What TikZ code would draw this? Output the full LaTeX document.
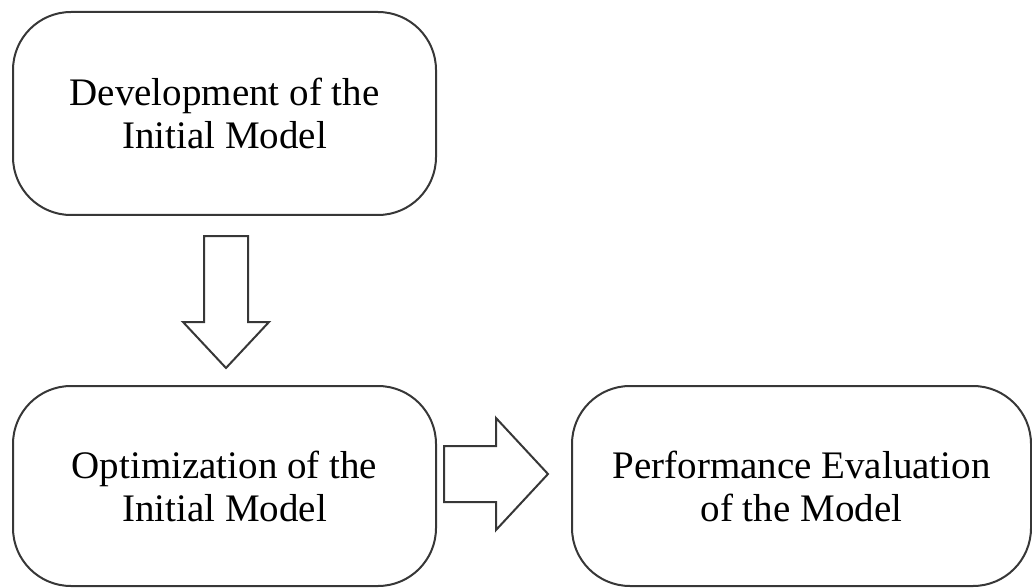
\documentclass[tikz,border=0pt]{standalone}
\usepackage{fontspec}
\setmainfont{Liberation Serif}
\usepackage{tikz}
\usetikzlibrary{calc}
\definecolor{boxline}{RGB}{55,55,55}
\tikzset{
  stage/.style  ={draw=boxline, line width=1pt, rounded corners=29pt,
                  align=center, inner sep=0pt, minimum height=100pt,
                  font=\fontsize{19.5}{21.5}\selectfont},
  blockarr/.style ={draw=boxline, line width=1pt, line join=miter},
}
\begin{document}
\begin{tikzpicture}[x=0.5pt,y=-0.5pt]
  \useasboundingbox (0,0) rectangle (1032,588);
  % stages
  \node[stage, minimum width=211.5pt, minimum height=101.5pt] (dev) at (224.5,113.5)
       {Development of the\\Initial Model};
  \node[stage, minimum width=211.5pt] (opt) at (224.5,486)
       {Optimization of the\\Initial Model};
  \node[stage, minimum width=229.5pt] (perf) at (801.5,486)
       {Performance Evaluation\\of the Model};
  % block arrows
  \coordinate (down) at ($(dev.south)!0.5!(opt.north)+(1.5,1.5)$);
  \coordinate (right) at ($(opt.east)!0.5!(perf.west)+(-8,-12)$);
  \draw[blockarr] ($(down)+(-22,-66)$) -- ($(down)+(22,-66)$) -- ($(down)+(22,20)$)
    -- ($(down)+(43,20)$) -- ($(down)+(0,66)$) -- ($(down)+(-43,20)$)
    -- ($(down)+(-22,20)$) -- cycle;
  \draw[blockarr] ($(right)+(-52,-28)$) -- ($(right)+(0,-28)$) -- ($(right)+(0,-56)$)
    -- ($(right)+(52,0)$) -- ($(right)+(0,56)$) -- ($(right)+(0,28)$)
    -- ($(right)+(-52,28)$) -- cycle;
\end{tikzpicture}
\end{document}
